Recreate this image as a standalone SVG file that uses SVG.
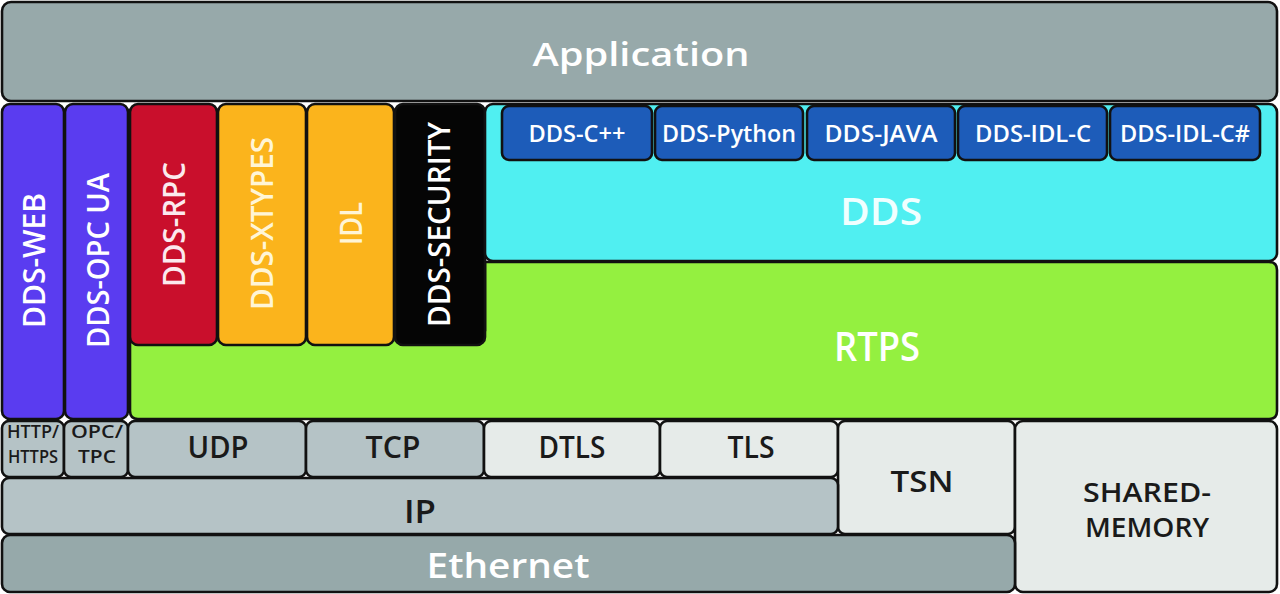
<svg xmlns="http://www.w3.org/2000/svg" width="1280" height="594" viewBox="0 0 1280 594">
<style>
.b{stroke:#111;stroke-width:2.6}
.app{fill:#97a9aa}
.web{fill:#5a3cf0}
.rpc{fill:#c90f2c}
.yel{fill:#fbb41c}
.sec{fill:#050505}
.cyan{fill:#50eff1}
.lang{fill:#1d5cb9}
.green{fill:#94f040}
.gray{fill:#b5c3c6}
.light{fill:#e6ebe9}
.eth{fill:#96a9aa}
text{font-family:"Open Sans","Liberation Sans",sans-serif;font-weight:600;text-anchor:middle}
.w{fill:#ffffff}
.d{fill:#1a1a1a}
.v{font-size:31px}
</style>
<rect width="1280" height="594" fill="#ffffff"/>

<g id="application">
<rect class="b app" x="2" y="2" width="1275" height="99" rx="9"/>
<text class="w" x="641" y="66" font-size="32" textLength="217" lengthAdjust="spacingAndGlyphs">Application</text>
</g>

<g id="rtps">
<path class="b green" d="M138,330 H485 V262 H1269 Q1277,262 1277,270 V411 Q1277,419 1269,419 H138 Q130,419 130,411 V338 Q130,330 138,330 Z"/>
<text class="w" x="877" y="361" font-size="40" textLength="86" lengthAdjust="spacingAndGlyphs">RTPS</text>
</g>

<g id="dds-web">
<rect class="b web" x="2" y="104" width="62" height="315" rx="8"/>
<text class="w v" transform="translate(45,260.5) rotate(-90)" textLength="135" lengthAdjust="spacingAndGlyphs">DDS-WEB</text>
</g>

<g id="dds-opc-ua">
<rect class="b web" x="65" y="104" width="63" height="315" rx="8"/>
<text class="w v" transform="translate(109,260.5) rotate(-90)" textLength="175" lengthAdjust="spacingAndGlyphs">DDS-OPC UA</text>
</g>

<g id="dds-rpc">
<rect class="b rpc" x="130" y="104" width="87" height="241" rx="8"/>
<text class="v" fill="#fbe9ee" transform="translate(185,224.5) rotate(-90)" textLength="125" lengthAdjust="spacingAndGlyphs">DDS-RPC</text>
</g>

<g id="dds-xtypes">
<rect class="b yel" x="218" y="104" width="88" height="241" rx="8"/>
<text class="v" fill="#fff5d6" transform="translate(273,223.5) rotate(-90)" textLength="173" lengthAdjust="spacingAndGlyphs">DDS-XTYPES</text>
</g>

<g id="idl">
<rect class="b yel" x="307" y="104" width="87" height="241" rx="8"/>
<text class="v" fill="#fff5d6" transform="translate(362,223.5) rotate(-90)" textLength="43" lengthAdjust="spacingAndGlyphs">IDL</text>
</g>

<g id="dds-security">
<rect class="b sec" x="395" y="104" width="90" height="241" rx="8"/>
<text class="w v" transform="translate(450,224.5) rotate(-90)" textLength="205" lengthAdjust="spacingAndGlyphs">DDS-SECURITY</text>
</g>

<g id="dds">
<rect class="b cyan" x="485" y="104" width="792" height="157" rx="8"/>
<text fill="#f0ffff" x="881" y="225" font-size="37" textLength="82" lengthAdjust="spacingAndGlyphs">DDS</text>
</g>

<g id="dds-cpp">
<rect class="b lang" x="502" y="106" width="150" height="54" rx="7"/>
<text class="w" x="577" y="142" font-size="23" textLength="97" lengthAdjust="spacingAndGlyphs">DDS-C++</text>
</g>
<g id="dds-python">
<rect class="b lang" x="655" y="106" width="148" height="54" rx="7"/>
<text class="w" x="729" y="142" font-size="23" textLength="134" lengthAdjust="spacingAndGlyphs">DDS-Python</text>
</g>
<g id="dds-java">
<rect class="b lang" x="807" y="106" width="148" height="54" rx="7"/>
<text class="w" x="881" y="142" font-size="23" textLength="113" lengthAdjust="spacingAndGlyphs">DDS-JAVA</text>
</g>
<g id="dds-idl-c">
<rect class="b lang" x="958" y="106" width="149" height="54" rx="7"/>
<text class="w" x="1033" y="142" font-size="23" textLength="116" lengthAdjust="spacingAndGlyphs">DDS-IDL-C</text>
</g>
<g id="dds-idl-csharp">
<rect class="b lang" x="1110" y="106" width="150" height="54" rx="7"/>
<text class="w" x="1185" y="142" font-size="23" textLength="130" lengthAdjust="spacingAndGlyphs">DDS-IDL-C#</text>
</g>

<g id="http">
<rect class="b gray" x="2" y="421" width="62" height="56" rx="7"/>
<text class="d" x="33" y="438" font-size="18" textLength="52" lengthAdjust="spacingAndGlyphs">HTTP/</text>
<text class="d" x="33" y="463" font-size="18" textLength="50" lengthAdjust="spacingAndGlyphs">HTTPS</text>
</g>
<g id="opc">
<rect class="b gray" x="64" y="421" width="64" height="56" rx="7"/>
<text class="d" x="97" y="438" font-size="18" textLength="52" lengthAdjust="spacingAndGlyphs">OPC/</text>
<text class="d" x="97" y="463" font-size="18" textLength="38" lengthAdjust="spacingAndGlyphs">TPC</text>
</g>
<g id="udp">
<rect class="b gray" x="128" y="421" width="178" height="56" rx="7"/>
<text class="d" x="218" y="458" font-size="30" textLength="61" lengthAdjust="spacingAndGlyphs">UDP</text>
</g>
<g id="tcp">
<rect class="b gray" x="306" y="421" width="178" height="56" rx="7"/>
<text class="d" x="393" y="458" font-size="30" textLength="55" lengthAdjust="spacingAndGlyphs">TCP</text>
</g>
<g id="dtls">
<rect class="b light" x="484" y="421" width="176" height="56" rx="7"/>
<text class="d" x="572" y="458" font-size="30" textLength="67" lengthAdjust="spacingAndGlyphs">DTLS</text>
</g>
<g id="tls">
<rect class="b light" x="660" y="421" width="178" height="56" rx="7"/>
<text class="d" x="751" y="458" font-size="30" textLength="47" lengthAdjust="spacingAndGlyphs">TLS</text>
</g>
<g id="tsn">
<rect class="b light" x="838" y="421" width="177" height="113" rx="7"/>
<text class="d" x="922" y="492" font-size="28" textLength="63" lengthAdjust="spacingAndGlyphs">TSN</text>
</g>
<g id="shared-memory">
<rect class="b light" x="1015" y="421" width="262" height="171" rx="8"/>
<text class="d" x="1147" y="502" font-size="27" textLength="128" lengthAdjust="spacingAndGlyphs">SHARED-</text>
<text class="d" x="1147" y="537" font-size="27" textLength="124" lengthAdjust="spacingAndGlyphs">MEMORY</text>
</g>
<g id="ip">
<rect class="b gray" x="2" y="478" width="836" height="56" rx="7"/>
<text class="d" x="420" y="523" font-size="33" textLength="32" lengthAdjust="spacingAndGlyphs">IP</text>
</g>
<g id="ethernet">
<rect class="b eth" x="2" y="535" width="1013" height="57" rx="8"/>
<text class="w" x="508" y="578" font-size="34" textLength="163" lengthAdjust="spacingAndGlyphs">Ethernet</text>
</g>

<g id="connectors"></g>
</svg>
